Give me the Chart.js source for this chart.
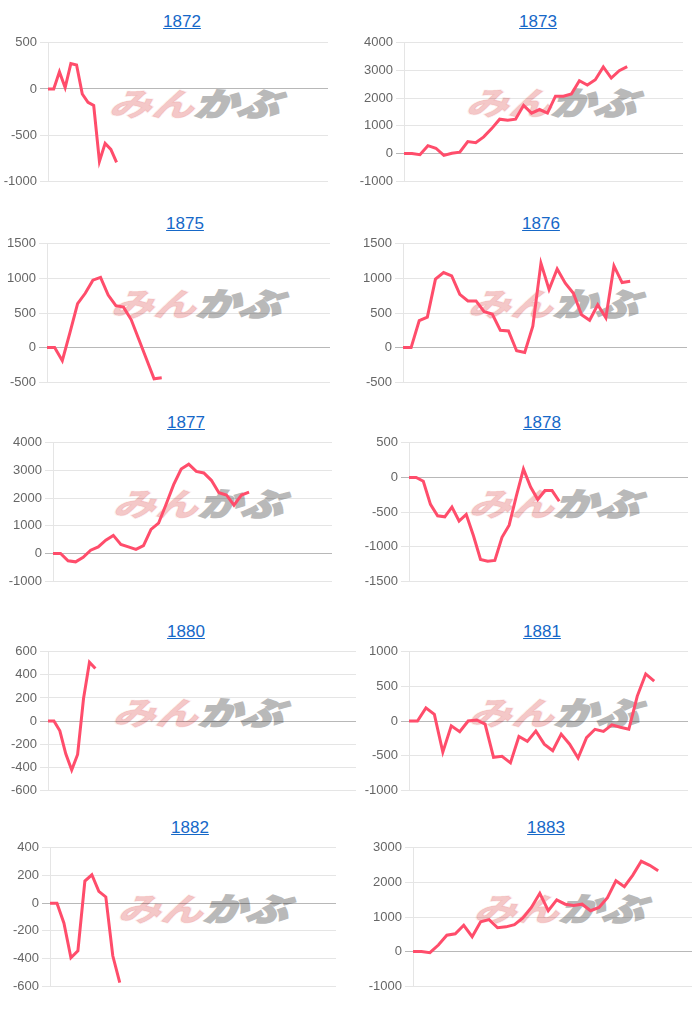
<!DOCTYPE html>
<html lang="ja">
<head>
<meta charset="utf-8">
<title>年別チャート</title>
<script src="https://cdn.jsdelivr.net/npm/chart.js@4.4.1/dist/chart.umd.min.js"></script>
<style>
    body {
        margin: 0;
        width: 700px;
        height: 1010px;
        position: relative;
        overflow: hidden;
        background: #fff;
        font-family: "Liberation Sans", Arial, sans-serif;
    }
    .title {
        position: absolute;
        width: 120px;
        text-align: center;
        font-size: 17px;
        line-height: 20px;
    }
    .title a { color: #1668c8; text-decoration: underline; }
    .wm {
        position: absolute;
        font-family: "Noto Sans CJK JP", sans-serif;
        font-weight: 900;
        font-size: 32px;
        line-height: 32px;
        white-space: nowrap;
        transform-origin: left top;
        transform: scaleX(1.33) skewX(-18deg);
    }
    .wm .min {
        color: rgba(228, 110, 110, 0.4);
        -webkit-text-stroke: 1.6px rgba(228, 110, 110, 0.1);
    }
    .wm .kabu {
        color: #b9b9b9;
        -webkit-text-stroke: 1.6px #b9b9b9;
    }
    .box { position: absolute; }
</style>
</head>
<body>
<script>
// chart titles (years)
const years = ["1872", "1873", "1875", "1876", "1877", "1878", "1880", "1881", "1882", "1883"];

// number of slots on the x axis of each chart (labels are hidden)
const dayCounts = [50, 36, 38, 36, 38, 40, 53, 34, 42, 34];

// series values
const values1872 = [0, 0, 185, 15, 275, 260, -55, -145, -180, -785, -590, -655, -795];
const values1873 = [0, 0, -40, 285, 190, -70, 10, 50, 430, 390, 600, 900, 1240, 1200, 1240, 1740, 1460, 1590, 1460, 2070, 2070, 2150, 2630, 2475, 2665, 3130, 2725, 2990, 3140];
const values1875 = [0, 0, -190, 215, 635, 785, 975, 1015, 760, 605, 585, 405, 120, -165, -450, -435];
const values1876 = [0, 0, 390, 440, 990, 1085, 1035, 770, 675, 675, 520, 485, 250, 240, -45, -70, 310, 1220, 840, 1135, 930, 785, 475, 395, 620, 430, 1180, 940, 960];
const values1877 = [0, 0, -260, -300, -140, 120, 240, 480, 655, 330, 240, 150, 285, 870, 1095, 1780, 2490, 3050, 3225, 2965, 2910, 2645, 2195, 2115, 1745, 2115, 2220];
const values1878 = [0, 0, -55, -390, -555, -570, -430, -630, -535, -840, -1185, -1210, -1200, -865, -690, -270, 120, -140, -320, -190, -190, -345];
const values1880 = [0, 0, -85, -285, -425, -290, 195, 510, 455];
const values1881 = [0, 0, 190, 95, -450, -70, -155, 0, 15, -45, -525, -510, -605, -225, -295, -145, -335, -430, -190, -335, -535, -240, -120, -150, -55, -90, -120, 360, 680, 575];
const values1882 = [0, 0, -145, -395, -345, 160, 205, 85, 45, -380, -575];
const values1883 = [0, 0, -30, 190, 475, 515, 760, 430, 860, 925, 690, 715, 780, 970, 1275, 1685, 1180, 1495, 1370, 1335, 1370, 1180, 1275, 1560, 2045, 1875, 2210, 2610, 2495, 2335];
const allValues = [values1872, values1873, values1875, values1876, values1877, values1878, values1880, values1881, values1882, values1883];

// y axis ticks
const yMin = [-1000, -1000, -500, -500, -1000, -1500, -600, -1000, -600, -1000];
const yMax = [500, 4000, 1500, 1500, 4000, 500, 600, 1000, 400, 3000];
const yStep = [500, 1000, 500, 500, 1000, 500, 200, 500, 200, 1000];

// page layout: axis x, right edge, plot top, title centre, watermark corner
const AXIS_W = 46;
const PAD = 10;
const layout = [
    { axis: 48,  right: 328, top: 42,  tx: 182, ty: 22,  wx: 113, wy: 88 },
    { axis: 404, right: 683, top: 42,  tx: 538, ty: 22,  wx: 470, wy: 87 },
    { axis: 47,  right: 330, top: 243, tx: 185, ty: 224, wx: 115, wy: 288 },
    { axis: 403, right: 687, top: 243, tx: 541, ty: 224, wx: 472, wy: 288 },
    { axis: 53,  right: 332, top: 442, tx: 186, ty: 423, wx: 117, wy: 488 },
    { axis: 409, right: 688, top: 442, tx: 542, ty: 423, wx: 473, wy: 488 },
    { axis: 48,  right: 356, top: 651, tx: 186, ty: 632, wx: 117, wy: 697 },
    { axis: 409, right: 688, top: 651, tx: 542, ty: 632, wx: 473, wy: 697 },
    { axis: 50,  right: 336, top: 847, tx: 190, ty: 828, wx: 122, wy: 893 },
    { axis: 413, right: 692, top: 847, tx: 546, ty: 828, wx: 478, wy: 893 }
];

years.forEach((year, i) => {
    const L = layout[i];

    // title link
    const t = document.createElement("div");
    t.className = "title";
    t.style.left = (L.tx - 60) + "px";
    t.style.top = (L.ty - 10) + "px";
    t.innerHTML = '<a href="#">' + year + '</a>';
    document.body.appendChild(t);

    // watermark logo, behind the canvas
    const wm = document.createElement("div");
    wm.className = "wm";
    wm.style.left = (L.wx + 8) + "px";
    wm.style.top = (L.wy - 2) + "px";
    wm.innerHTML = '<span class="min">みん</span><span class="kabu">かぶ</span>';
    document.body.appendChild(wm);

    const box = document.createElement("div");
    box.className = "box";
    box.style.left = (L.axis - AXIS_W) + "px";
    box.style.top = (L.top - PAD) + "px";
    box.style.width = (L.right - L.axis + AXIS_W) + "px";
    box.style.height = (140 + PAD * 2) + "px";
    const canvas = document.createElement("canvas");
    box.appendChild(canvas);
    document.body.appendChild(box);

    const labels = Array.from({ length: dayCounts[i] }, (_, k) => String(k + 1));

    new Chart(canvas.getContext("2d"), {
        type: "line",
        data: {
            labels: labels,
            datasets: [{
                label: year,
                data: allValues[i],
                borderColor: "#ff4d6b",
                borderWidth: 3,
                pointRadius: 0,
                tension: 0,
                fill: false
            }]
        },
        options: {
            responsive: true,
            maintainAspectRatio: false,
            animation: false,
            layout: { padding: { top: PAD, bottom: PAD, left: 0, right: 0 } },
            plugins: { legend: { display: false }, tooltip: { enabled: false } },
            scales: {
                x: { display: false },
                y: {
                    min: yMin[i],
                    max: yMax[i],
                    afterFit: (scale) => { scale.width = AXIS_W; },
                    ticks: {
                        stepSize: yStep[i],
                        color: "#666",
                        font: { family: "'Liberation Sans', Arial, sans-serif", size: 13 },
                        callback: (v) => String(v)   // no thousands separator
                    },
                    grid: {
                        color: (ctx) => ctx.tick && ctx.tick.value === 0 ? "rgba(0,0,0,0.28)" : "rgba(0,0,0,0.1)"
                    },
                    border: { color: "rgba(0,0,0,0.1)" }
                }
            }
        }
    });
});
</script>
</body>
</html>
